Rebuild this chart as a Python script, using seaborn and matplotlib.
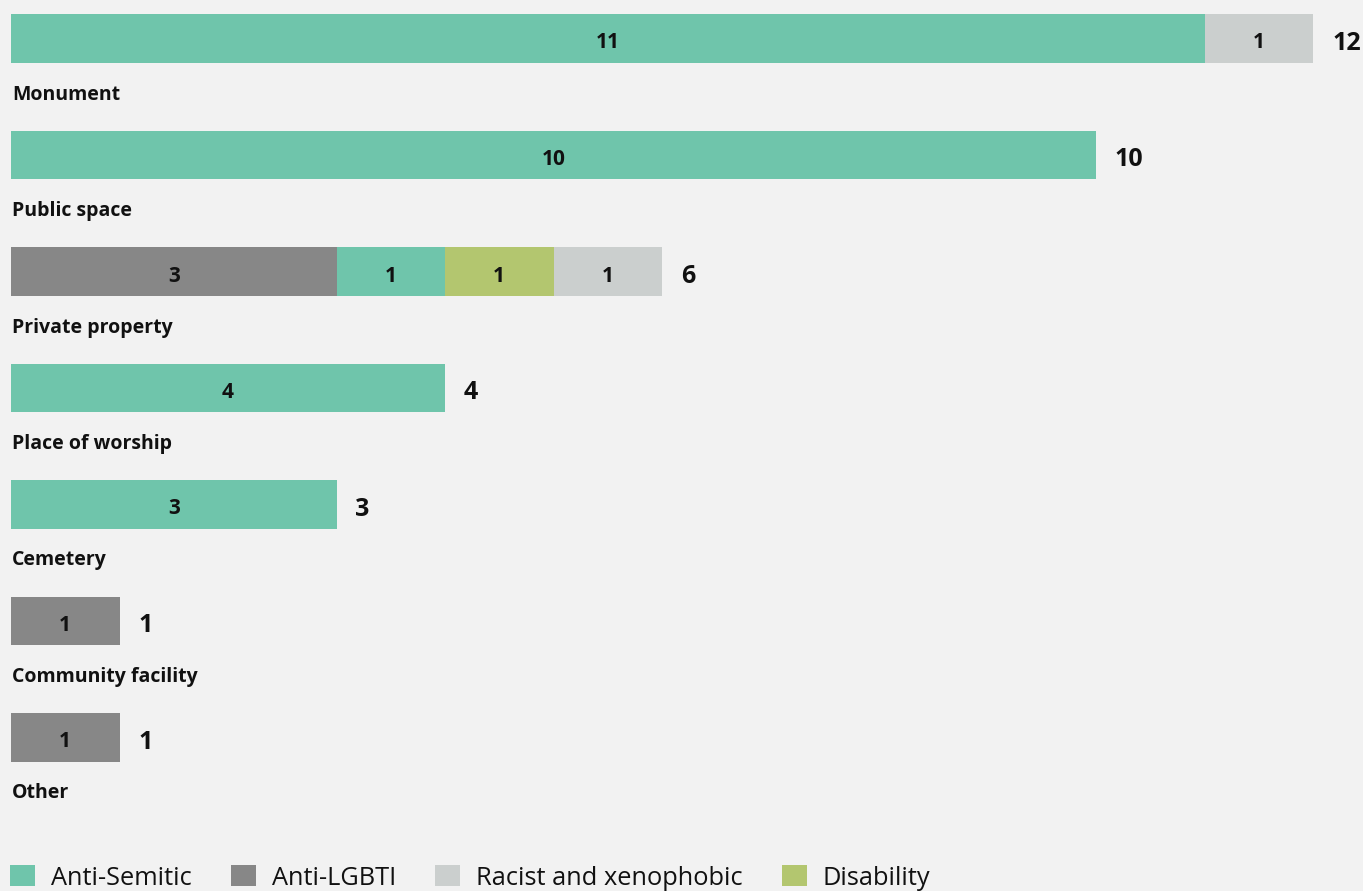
import matplotlib
matplotlib.use("Agg")
import matplotlib.pyplot as plt
import seaborn as sns
import numpy as np
import pandas as pd
from matplotlib.patches import Patch

categories = ["Monument", "Public space", "Private property", "Place of worship",
              "Cemetery", "Community facility", "Other"]
anti_lgbti = [0, 0, 3, 0, 0, 1, 1]
anti_semitic = [11, 10, 1, 4, 3, 0, 0]
disability = [0, 0, 1, 0, 0, 0, 0]
racist = [1, 0, 1, 0, 0, 0, 0]

# stacking order left -> right
series_names = ["Anti-LGBTI", "Anti-Semitic", "Disability", "Racist and xenophobic"]
series_vals = [anti_lgbti, anti_semitic, disability, racist]
colors = {"Anti-Semitic": "#6fc5ab", "Anti-LGBTI": "#878787",
          "Racist and xenophobic": "#cbcfce", "Disability": "#b3c66f"}
legend_order = ["Anti-Semitic", "Anti-LGBTI", "Racist and xenophobic", "Disability"]

sns.set_theme(style="white")
plt.rcParams["font.family"] = ["Open Sans", "DejaVu Sans"]
BG = "#f2f2f2"

fig = plt.figure(figsize=(13.63, 8.91), dpi=100, facecolor=BG)
ax = fig.add_axes([0, 0, 1, 1])
ax.set_facecolor(BG)

vals = np.array(series_vals, dtype=float)
cum = np.cumsum(vals, axis=0)
totals = cum[-1]

# draw from the full stack down so each layer covers the previous
for i in range(len(series_names) - 1, -1, -1):
    df = pd.DataFrame({"cat": categories, "v": cum[i]})
    sns.barplot(data=df, x="v", y="cat", orient="h", order=categories,
                color=colors[series_names[i]], width=0.42, saturation=1,
                ax=ax, errorbar=None, linewidth=0)

px_per_unit = 108.5
px_per_row = 116.5
x0 = -11 / px_per_unit
ax.set_xlim(x0, x0 + 1363 / px_per_unit)
y0 = -38.5 / px_per_row
ax.set_ylim(y0 + 891 / px_per_row, y0)
ax.axis("off")

# segment labels
for yi in range(len(categories)):
    for i in range(len(series_names)):
        v = vals[i][yi]
        if v > 0:
            left = cum[i][yi] - v
            ax.text(left + v / 2, yi + 10 / px_per_row, f"{int(v)}", ha="center",
                    va="baseline", fontsize=15, fontweight="bold", color="#111111")
    ax.text(totals[yi] + 19 / px_per_unit, yi + 11.5 / px_per_row, f"{int(totals[yi])}",
            ha="left", va="baseline", fontsize=18, fontweight="bold", color="#111111")
    ax.text(x0 + 12 / px_per_unit, yi + 61 / px_per_row, categories[yi],
            ha="left", va="baseline", fontsize=14, fontweight="bold", color="#111111")

handles = [Patch(facecolor=colors[n], edgecolor="none", label=n) for n in legend_order]
fig.legend(handles=handles, loc="center left", bbox_to_anchor=(10 / 1363, 13 / 891),
           ncol=4, frameon=False, fontsize=18.3, handlelength=0.98, handleheight=0.87,
           handletextpad=0.63, columnspacing=1.54, borderaxespad=0, borderpad=0.0,
           labelcolor="#111111")

fig.savefig("out.png", dpi=100, facecolor=BG)
